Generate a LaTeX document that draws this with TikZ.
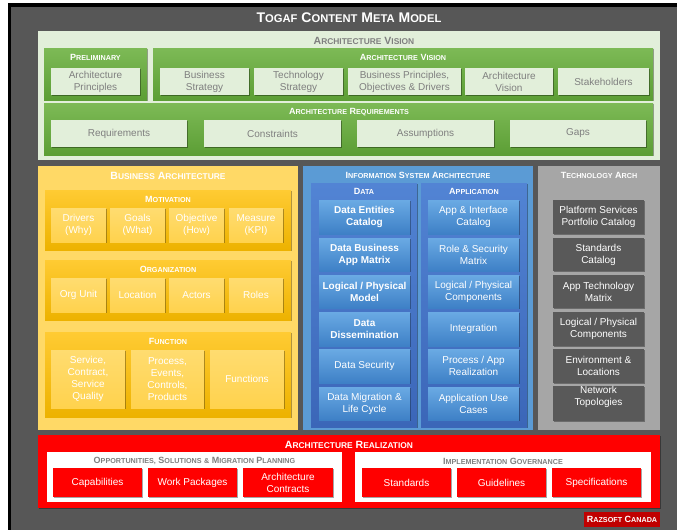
\documentclass[tikz,border=0pt]{standalone}
\usepackage{fontspec}
\setmainfont{Liberation Sans}
\usetikzlibrary{shadows}
\definecolor{bggray}{HTML}{575757}
\definecolor{lgreen}{HTML}{E2EFDA}
\definecolor{greenT}{HTML}{7DBA56}
\definecolor{greenB}{HTML}{5C9E35}
\definecolor{txtgray}{HTML}{7F7F7F}
\definecolor{ylight}{HTML}{FFD966}
\definecolor{ygoldT}{HTML}{FFCB33}
\definecolor{ygoldB}{HTML}{EDB200}
\definecolor{ysubT}{HTML}{FFDC70}
\definecolor{ysubB}{HTML}{FFD24D}
\definecolor{bluebg}{HTML}{5B9BD5}
\definecolor{bcolT}{HTML}{5284D4}
\definecolor{bcolB}{HTML}{3B66B8}
\definecolor{bboxT}{HTML}{6AAAE4}
\definecolor{bboxB}{HTML}{3E80C6}
\definecolor{techbg}{HTML}{A6A6A6}
\definecolor{techbox}{HTML}{595959}
\definecolor{redR}{HTML}{FF0000}
\definecolor{darkred}{HTML}{C00000}
\newcommand\SC[2]{#1\scalebox{0.8}{#2}}
\newcommand\bx[7]{\node[#6, minimum width={((#4)-(#2))*1pt}, minimum height={((#5)-(#3))*1pt}] (#1) at ({((#2)+(#4))/2},{((#3)+(#5))/2}) {#7};}
\tikzset{
  base/.style={inner sep=0pt, outer sep=0pt, align=center, font=\fontsize{10}{12}\selectfont},
  shad/.style={drop shadow={shadow xshift=0.8pt, shadow yshift=-1pt, opacity=0.35, fill=black}},
  hdr/.style={inner sep=0pt, text=white, font=\bfseries\fontsize{10.5}{12}\selectfont},
  shdr/.style={inner sep=0pt, text=white, font=\bfseries\fontsize{9}{11}\selectfont},
  ghdr/.style={inner sep=0pt, text=txtgray, font=\bfseries\fontsize{9}{11}\selectfont},
  lgouter/.style={base, fill=lgreen},
  gpanel/.style={base, shad, top color=greenT, bottom color=greenB},
  lgbox/.style={base, shad, fill=lgreen, text=txtgray},
  youter/.style={base, fill=ylight},
  ypanel/.style={base, shad, top color=ygoldT, bottom color=ygoldB},
  ybox/.style={base, shad, top color=ysubT, bottom color=ysubB, text=white},
  bouter/.style={base, fill=bluebg},
  bpanel/.style={base, shad, top color=bcolT, bottom color=bcolB},
  bbox/.style={base, shad, top color=bboxT, bottom color=bboxB, text=white},
  bboxb/.style={bbox, font=\bfseries\fontsize{10}{12}\selectfont},
  touter/.style={base, fill=techbg},
  tbox/.style={base, shad, fill=techbox, text=white},
  router/.style={base, shad, fill=redR},
  wpanel/.style={base, fill=white},
  rbox/.style={base, shad, fill=redR, text=white},
}
\begin{document}
\begin{tikzpicture}[x=1pt,y=-1pt]
\useasboundingbox (0,0) rectangle (677,530);
\fill[white] (0,0) rectangle (677,530);
\fill[black] (8,3) rectangle (677,530);
\fill[bggray] (11,7) rectangle (677,530);

\node[hdr, font=\bfseries\fontsize{14}{16}\selectfont] (title) at (349,18) {\SC{T}{OGAF} \SC{C}{ONTENT} \SC{M}{ETA} \SC{M}{ODEL}};

% Architecture vision area
\bx{av}{38}{31}{660}{160}{lgouter}{}
\node[ghdr, font=\bfseries\fontsize{10.5}{12}\selectfont] (avh) at (364,41) {\SC{A}{RCHITECTURE} \SC{V}{ISION}};
\bx{prel}{44}{48}{147}{100}{gpanel}{}
\node[shdr] (prelh) at (95.5,57) {\SC{P}{RELIMINARY}};
\bx{ap}{51}{68}{140}{95}{lgbox}{Architecture\\Principles}
\bx{avi}{153}{48}{653}{100}{gpanel}{}
\node[shdr] (avih) at (403,57) {\SC{A}{RCHITECTURE} \SC{V}{ISION}};
\bx{bs}{160}{68}{249}{95}{lgbox}{Business\\Strategy}
\bx{ts}{254}{68}{343}{95}{lgbox}{Technology\\Strategy}
\bx{bp}{348}{68}{461}{95}{lgbox}{Business Principles,\\Objectives \& Drivers}
\bx{avv}{465}{68}{553}{95}{lgbox}{Architecture\\Vision}
\bx{sh}{558}{68}{649}{95}{lgbox}{Stakeholders}
\bx{ar}{44}{103}{653}{155}{gpanel}{}
\node[shdr] (arh) at (349,112) {\SC{A}{RCHITECTURE} \SC{R}{EQUIREMENTS}};
\bx{req}{51}{120}{187}{147}{lgbox}{Requirements}
\bx{con}{204}{120}{341}{147}{lgbox}{Constraints}
\bx{ass}{357}{120}{494}{147}{lgbox}{Assumptions}
\bx{gap}{510}{120}{646}{147}{lgbox}{Gaps}

% Business architecture
\bx{ba}{38}{166}{298}{430}{youter}{}
\node[hdr] (bah) at (168,176) {\SC{B}{USINESS} \SC{A}{RCHITECTURE}};
\bx{mot}{45}{190}{291}{250}{ypanel}{}
\node[shdr] (moth) at (168,199) {\SC{M}{OTIVATION}};
\bx{drv}{51}{208}{106}{242}{ybox}{Drivers\\(Why)}
\bx{gls}{110}{208}{165}{242}{ybox}{Goals\\(What)}
\bx{obj}{169}{208}{224}{242}{ybox}{Objective\\(How)}
\bx{mea}{229}{208}{283}{242}{ybox}{Measure\\(KPI)}
\bx{org}{45}{260}{291}{320}{ypanel}{}
\node[shdr] (orgh) at (168,269) {\SC{O}{RGANIZATION}};
\bx{ou}{51}{278}{106}{312}{ybox}{Org Unit}
\bx{loc}{110}{278}{165}{312}{ybox}{Location}
\bx{act}{169}{278}{224}{312}{ybox}{Actors}
\bx{rol}{229}{278}{283}{312}{ybox}{Roles}
\bx{fun}{45}{332}{291}{417}{ypanel}{}
\node[shdr] (funh) at (168,341) {\SC{F}{UNCTION}};
\bx{svc}{51}{350}{125}{408}{ybox}{Service,\\Contract,\\Service\\Quality}
\bx{prc}{131}{350}{204}{408}{ybox}{Process,\\Events,\\Controls,\\Products}
\bx{fns}{210}{350}{284}{408}{ybox}{Functions}

% Information system architecture
\bx{isa}{303}{166}{533}{430}{bouter}{}
\node[shdr] (isah) at (418,175) {\SC{I}{NFORMATION} \SC{S}{YSTEM} \SC{A}{RCHITECTURE}};
\bx{dat}{311}{183}{417}{427}{bpanel}{}
\node[shdr] (dath) at (364,191) {\SC{D}{ATA}};
\bx{app}{421}{183}{527}{427}{bpanel}{}
\node[shdr] (apph) at (474,191) {\SC{A}{PPLICATION}};
\bx{d1}{319}{200}{410}{234}{bboxb}{Data Entities\\Catalog}
\bx{d2}{319}{238}{410}{271}{bboxb}{Data Business\\App Matrix}
\bx{d3}{319}{275}{410}{308}{bboxb}{Logical / Physical\\Model}
\bx{d4}{319}{312}{410}{346}{bboxb}{Data\\Dissemination}
\bx{d5}{319}{349}{410}{383}{bbox}{Data Security}
\bx{d6}{319}{387}{410}{420}{bbox}{Data Migration \&\\Life Cycle}
\bx{a1}{428}{200}{519}{234}{bbox}{App \& Interface\\Catalog}
\bx{a2}{428}{238}{519}{271}{bbox}{Role \& Security\\Matrix}
\bx{a3}{428}{275}{519}{308}{bbox}{Logical / Physical\\Components}
\bx{a4}{428}{312}{519}{346}{bbox}{Integration}
\bx{a5}{428}{349}{519}{383}{bbox}{Process / App\\Realization}
\bx{a6}{428}{387}{519}{420}{bbox}{Application Use\\Cases}

% Technology architecture
\bx{ta}{538}{166}{660}{430}{touter}{}
\node[shdr] (tah) at (599,175) {\SC{T}{ECHNOLOGY} \SC{A}{RCH}};
\bx{t1}{553}{200}{644}{234}{tbox}{Platform Services\\Portfolio Catalog}
\bx{t2}{553}{238}{644}{271}{tbox}{Standards\\Catalog}
\bx{t3}{553}{275}{644}{308}{tbox}{App Technology\\Matrix}
\bx{t4}{553}{312}{644}{346}{tbox}{Logical / Physical\\Components}
\bx{t5}{553}{349}{644}{383}{tbox}{Environment \&\\Locations}
\bx{t6}{553}{387}{644}{420}{tbox}{Network\\Topologies\\[4pt]}

% Architecture realization
\bx{real}{38}{435}{660}{508}{router}{}
\node[hdr] (realh) at (349,445) {\SC{A}{RCHITECTURE} \SC{R}{EALIZATION}};
\bx{opp}{47}{452}{342}{502}{wpanel}{}
\node[ghdr] (opph) at (194.5,461) {\SC{O}{PPORTUNITIES,} \SC{S}{OLUTIONS} \scalebox{0.8}{\&} \SC{M}{IGRATION} \SC{P}{LANNING}};
\bx{cap}{53}{468}{142}{497}{rbox}{Capabilities}
\bx{wp}{148}{468}{237}{497}{rbox}{Work Packages}
\bx{ac}{243}{468}{333}{497}{rbox}{Architecture\\Contracts}
\bx{ig}{355}{452}{651}{502}{wpanel}{}
\node[ghdr] (igh) at (503,461) {\SC{I}{MPLEMENTATION} \SC{G}{OVERNANCE}};
\bx{std}{362}{468}{451}{497}{rbox}{Standards}
\bx{gdl}{457}{468}{546}{497}{rbox}{Guidelines}
\bx{spc}{552}{468}{641}{497}{rbox}{Specifications}

\bx{raz}{584}{512}{660}{527}{base, fill=darkred}{}
\node[shdr] (razt) at (622,519.5) {\SC{R}{AZSOFT} \SC{C}{ANADA}};
\end{tikzpicture}
\end{document}
